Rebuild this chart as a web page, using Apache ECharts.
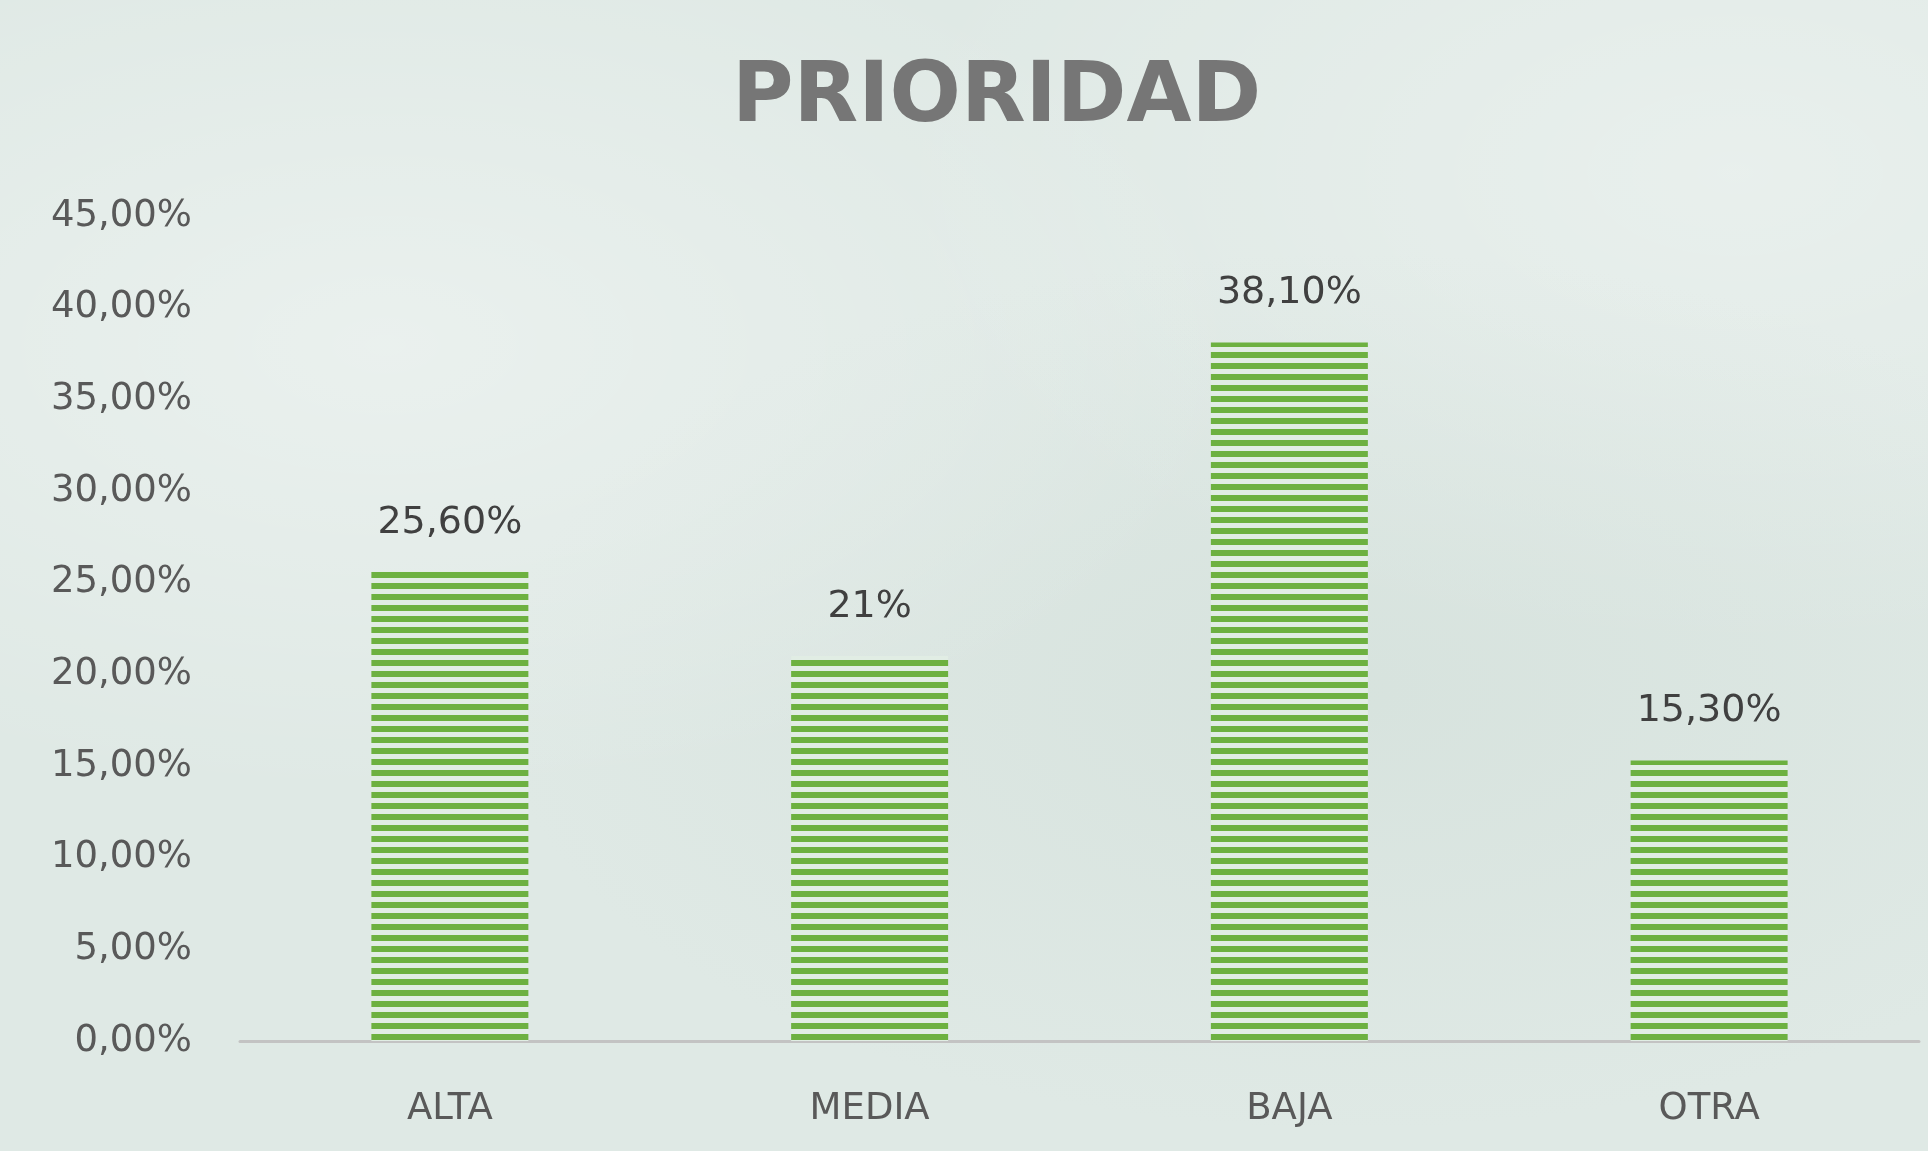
<!DOCTYPE html>
<html>
<head>
<meta charset="utf-8">
<script src="https://cdn.jsdelivr.net/npm/echarts@6/dist/echarts.min.js"></script>
<style>
  html, body { margin: 0; padding: 0; }
  body {
    width: 1928px; height: 1151px; overflow: hidden;
    background-color: #dfe9e5;
    background-image:
      radial-gradient(ellipse at 20% 30%, rgba(255,255,255,0.35), rgba(255,255,255,0) 40%),
      radial-gradient(ellipse at 70% 60%, rgba(200,215,208,0.35), rgba(200,215,208,0) 45%),
      radial-gradient(ellipse at 90% 15%, rgba(255,255,255,0.3), rgba(255,255,255,0) 35%);
  }
  #chart { width: 1928px; height: 1151px; }
</style>
</head>
<body>
<div id="chart"></div>
<script>
// datos
var categorias = ['ALTA', 'MEDIA', 'BAJA', 'OTRA'];
var valores = [25.6, 21, 38.1, 15.3];
var etiquetas = ['25,60%', '21%', '38,10%', '15,30%'];
var ejeMax = 45;
var ejeIntervalo = 5;

// patron de rayas horizontales para las barras
function rayas() {
  var c = document.createElement('canvas');
  c.width = 16; c.height = 11;
  var ctx = c.getContext('2d');
  ctx.fillStyle = '#e1ede4';
  ctx.fillRect(0, 0, 16, 11);
  ctx.fillStyle = '#6db140';
  ctx.fillRect(0, 0, 16, 6);
  return c;
}

var chart = echarts.init(document.getElementById('chart'));

var option = {
  backgroundColor: 'transparent',
  title: {
    text: 'PRIORIDAD',
    left: 727,
    top: 52,
    textStyle: {
      color: '#767676',
      fontFamily: 'DejaVu Sans',
      fontWeight: 'bold',
      fontSize: 84
    }
  },
  grid: { left: 240, right: 9, top: 216, bottom: 110 },
  xAxis: {
    type: 'category',
    data: categorias,
    axisLine: { lineStyle: { color: '#c3c3c3', width: 3 } },
    axisTick: { show: false },
    axisLabel: {
      color: '#595959',
      fontFamily: 'DejaVu Sans',
      fontSize: 37,
      margin: 50
    }
  },
  yAxis: {
    type: 'value',
    min: 0,
    max: ejeMax,
    interval: ejeIntervalo,
    splitLine: { show: false },
    axisLine: { show: false },
    axisTick: { show: false },
    axisLabel: {
      color: '#595959',
      fontFamily: 'DejaVu Sans',
      fontSize: 37,
      margin: 48,
      formatter: function (v) { return v.toFixed(2).replace('.', ',') + '%'; }
    }
  },
  series: [{
    type: 'bar',
    data: valores,
    barWidth: '37.4%',
    itemStyle: {
      color: { image: rayas(), repeat: 'repeat' }
    },
    label: {
      show: true,
      position: 'top',
      distance: 30,
      color: '#404040',
      fontFamily: 'DejaVu Sans',
      fontSize: 38,
      formatter: function (p) { return etiquetas[p.dataIndex]; }
    }
  }]
};

chart.setOption(option);
</script>
</body>
</html>
